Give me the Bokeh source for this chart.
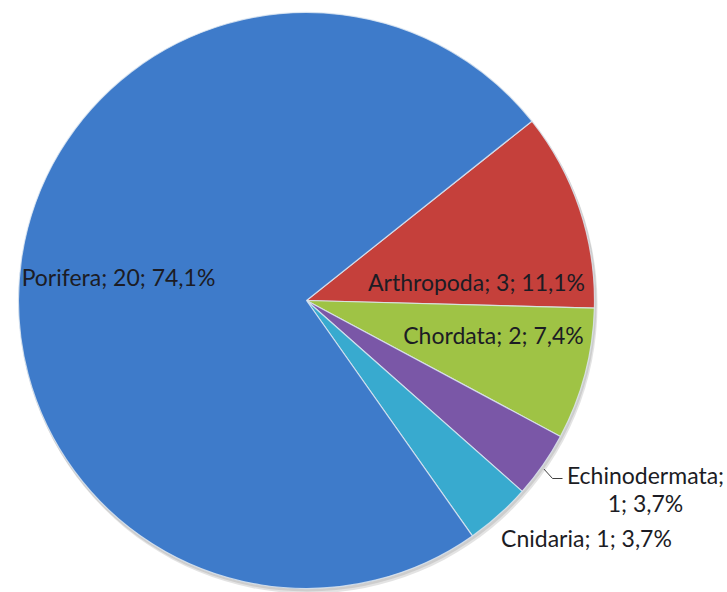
import numpy as np
from bokeh.plotting import figure
from bokeh.models import Range1d, ColumnDataSource
from bokeh.core.properties import value
from bokeh.embed import file_html
from bokeh.resources import INLINE

# ---- data (clockwise from the top-right boundary) ----
categories = ["Arthropoda", "Chordata", "Echinodermata", "Cnidaria", "Porifera"]
counts = [3, 2, 1, 1, 20]
colors = ["#C5403B", "#9FC345", "#7A57A7", "#38AACF", "#3E7BCA"]

# ---- layout (image pixel space, y flipped into data) ----
W, H = 727, 592
def Y(y_img):
    return H - y_img

cx, cy = 306, Y(300)
R = 288
start_deg = 38.5

total = sum(counts)
frac = np.array(counts, dtype=float) / total
cum = np.concatenate([[0.0], np.cumsum(frac)])
starts = np.radians(start_deg) - cum[:-1] * 2 * np.pi
ends = np.radians(start_deg) - cum[1:] * 2 * np.pi
mids = (starts + ends) / 2

def fmt_pct(f):
    return ("%.1f%%" % (f * 100)).replace(".", ",")

labels = ["%s; %d; %s" % (c, n, fmt_pct(f)) for c, n, f in zip(categories, counts, frac)]

p = figure(width=W, height=H, output_backend="svg", toolbar_location=None,
           x_range=Range1d(0, W), y_range=Range1d(0, H), min_border=0)
p.axis.visible = False
p.grid.visible = False
p.outline_line_color = None
p.background_fill_color = "white"
p.border_fill_color = "white"

# soft shadow
p.circle(x=[cx + 2], y=[cy - 4], radius=R + 1, fill_color="#7f7f7f", fill_alpha=0.22, line_color=None)
p.circle(x=[cx + 1], y=[cy - 2], radius=R + 1, fill_color="#7f7f7f", fill_alpha=0.22, line_color=None)

src = ColumnDataSource(dict(start=starts, end=ends, color=colors, cat=categories))
p.wedge(x=cx, y=cy, radius=R, start_angle="start", end_angle="end", direction="clock",
        fill_color="color", line_color="#dfe8f2", line_width=1.2, line_alpha=0.8, source=src)

font = value("Lato")
fs = "23px"
tc = "#1c1c24"

# label anchors (image coords)
pos = {
    "Porifera": (118, 276),
    "Arthropoda": (476, 281),
    "Chordata": (493, 334),
    "Cnidaria": (586, 537),
}
for cat, lab in zip(categories, labels):
    if cat == "Echinodermata":
        continue
    x0, y0 = pos[cat]
    p.text(x=[x0], y=[Y(y0)], text=[lab], text_font=font, text_font_size=fs,
           text_color=tc, text_align="center", text_baseline="middle")

# Echinodermata: two-line outside label with leader
ie = categories.index("Echinodermata")
e_first, e_second = labels[ie].split(" ", 1)
ex, ey1, ey2 = 645, 474, 502
p.text(x=[ex], y=[Y(ey1)], text=[e_first], text_font=font, text_font_size=fs,
       text_color=tc, text_align="center", text_baseline="middle")
p.text(x=[ex], y=[Y(ey2)], text=[e_second], text_font=font, text_font_size=fs,
       text_color=tc, text_align="center", text_baseline="middle")
rx = cx + R * np.cos(mids[ie])
ry = cy + R * np.sin(mids[ie])
p.line(x=[rx + 1, 552, 562], y=[ry - 4, Y(478), Y(478)], line_color="#404040", line_width=1)

open("out.html", "w").write(file_html(p, INLINE))
